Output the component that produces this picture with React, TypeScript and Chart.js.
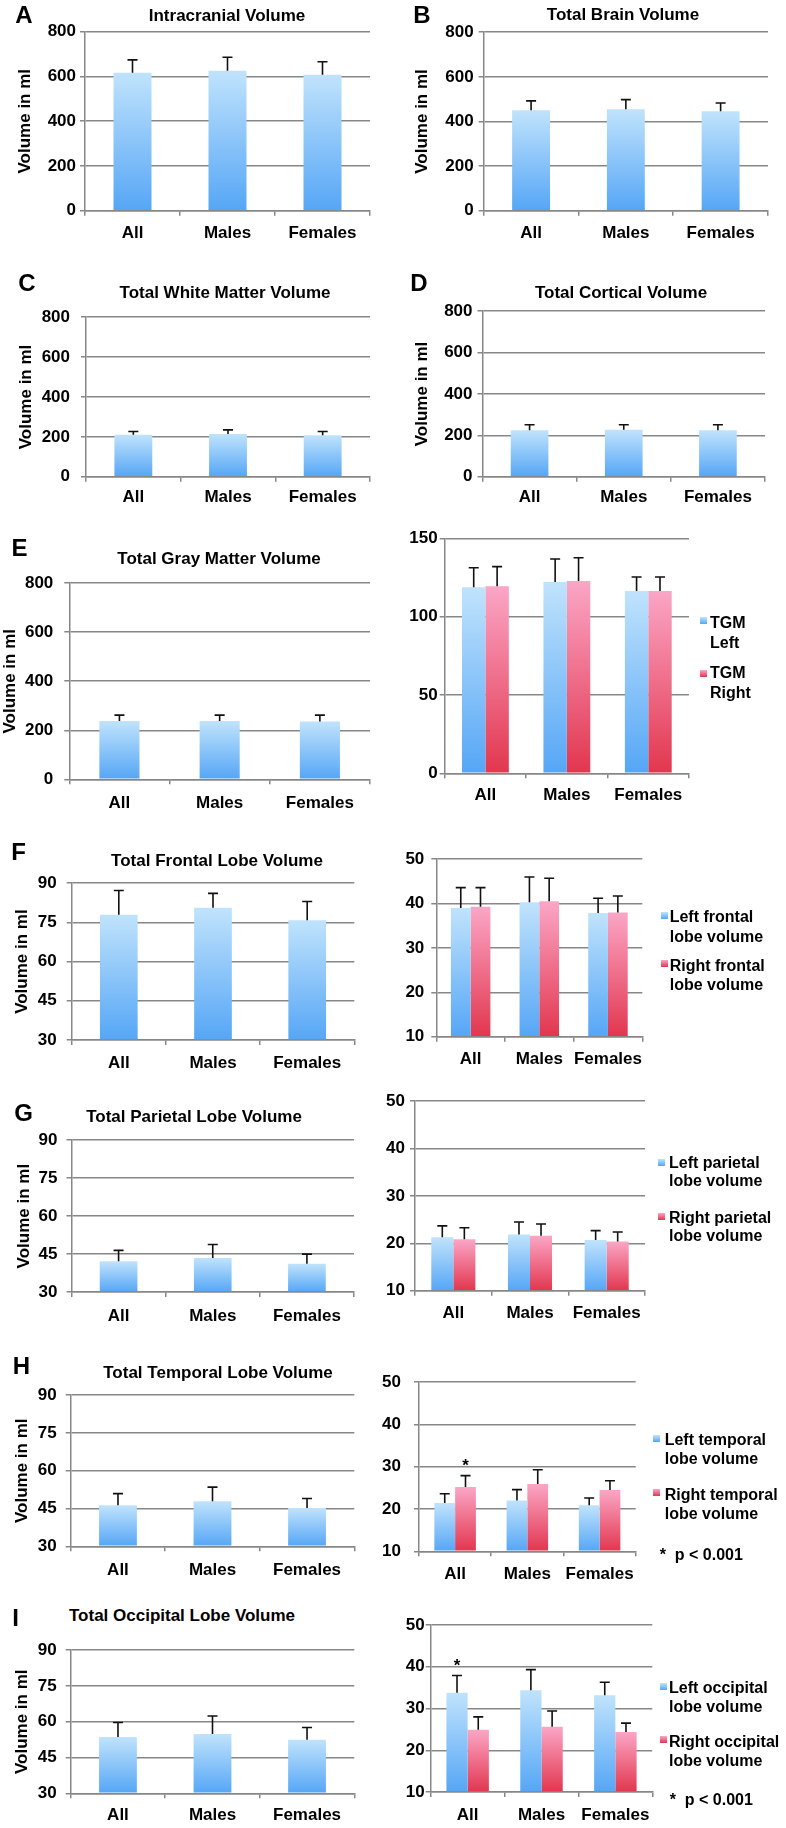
import React, { useEffect, useRef } from 'react';
import { Chart, registerables } from 'chart.js';

Chart.register(...registerables);

const FONT = '"Liberation Sans", Arial, Helvetica, sans-serif';
Chart.defaults.font.family = FONT;
Chart.defaults.color = '#000';

const BLUE_TOP = '#c0e3fc';
const BLUE_BOTTOM = '#55a6f6';
const PINK_TOP = '#fba6c6';
const PINK_BOTTOM = '#e2364e';
const GRID = '#878787';

// ---------- data ----------
const groups = ['All', 'Males', 'Females'];
const yAxisTitle = 'Volume in ml';

const icvMean = [617, 626, 608];
const icvSD = [57, 60, 58];
const tbvMean = [450, 455, 446];
const tbvSD = [42, 43, 37];
const wmMean = [211, 214, 208];
const wmSD = [16, 21, 19];
const cortMean = [224, 227, 224];
const cortSD = [27, 24, 27];
const gmMean = [238, 238, 236];
const gmSD = [24, 24, 26];

const tgmLeftMean = [118.7, 122.1, 116.4];
const tgmLeftSD = [12.5, 14.7, 8.9];
const tgmRightMean = [119.4, 122.7, 116.4];
const tgmRightSD = [12.5, 14.9, 8.9];

const frontalMean = [77.9, 80.6, 75.8];
const frontalSD = [9.3, 5.5, 7.2];
const frontalLeftMean = [39.0, 40.3, 37.9];
const frontalLeftSD = [4.6, 5.7, 3.3];
const frontalRightMean = [39.3, 40.5, 38.0];
const frontalRightSD = [4.3, 5.2, 3.7];

const parietalMean = [42.2, 43.5, 41.2];
const parietalSD = [4.3, 5.3, 3.8];
const parietalLeftMean = [21.3, 21.9, 20.7];
const parietalLeftSD = [2.4, 2.6, 2.0];
const parietalRightMean = [20.9, 21.6, 20.4];
const parietalRightSD = [2.4, 2.5, 2.0];

const temporalMean = [46.3, 47.9, 45.2];
const temporalSD = [4.6, 5.6, 3.8];
const temporalLeftMean = [21.4, 22.0, 20.9];
const temporalLeftSD = [2.2, 2.6, 1.7];
const temporalRightMean = [25.2, 25.9, 24.5];
const temporalRightSD = [2.7, 3.4, 2.2];
const temporalRightStars = [true, false, false];

const occipitalMean = [53.6, 54.9, 52.5];
const occipitalSD = [6.1, 7.5, 5.1];
const occipitalLeftMean = [33.8, 34.4, 33.2];
const occipitalLeftSD = [4.1, 4.9, 3.1];
const occipitalRightMean = [24.9, 25.6, 24.4];
const occipitalRightSD = [3.1, 3.8, 2.1];
const occipitalLeftStars = [true, false, false];

const volumeRange = [0, 800, 200];
const tgmRange = [0, 150, 50];
const lobeRange = [30, 90, 15];
const hemiRange = [10, 50, 10];

const panelLetters = ['A', 'B', 'C', 'D', 'E', 'F', 'G', 'H', 'I'];
const panelTitles = [
  'Intracranial Volume',
  'Total Brain Volume',
  'Total White Matter Volume',
  'Total Cortical Volume',
  'Total Gray Matter Volume',
  'Total Frontal Lobe Volume',
  'Total Parietal Lobe Volume',
  'Total Temporal Lobe Volume',
  'Total Occipital Lobe Volume',
];
const tgmLabels = ['TGM\nLeft', 'TGM\nRight'];
const frontalLabels = ['Left frontal\nlobe volume', 'Right frontal\nlobe volume'];
const parietalLabels = ['Left parietal\nlobe volume', 'Right parietal\nlobe volume'];
const temporalLabels = ['Left temporal\nlobe volume', 'Right temporal\nlobe volume'];
const occipitalLabels = ['Left occipital\nlobe volume', 'Right occipital\nlobe volume'];
const sigNote = '*  p < 0.001';

// ---------- layout ----------
type Tone = 'blue' | 'pink';
interface Series { label: string; mean: number[]; sd: number[]; tone: Tone; stars?: boolean[] }
interface Spec {
  id: string;
  series: Series[];
  range: number[];
  plot: number[]; // left, top, right, bottom (page px)
  left: number; // canvas left
  tickPad: number;
  catY: number;
  yTitleX?: number;
  catPct: number;
}

const single = (mean: number[], sd: number[]): Series[] => [{ label: yAxisTitle, mean, sd, tone: 'blue' }];

const specs: Spec[] = [
  { id: 'A', series: single(icvMean, icvSD), range: volumeRange, plot: [85, 31.7, 370, 210.7], left: 0, tickPad: 4, catY: 233, yTitleX: 25, catPct: 0.4 },
  { id: 'B', series: single(tbvMean, tbvSD), range: volumeRange, plot: [483.7, 31.7, 768, 210.7], left: 393, tickPad: 5, catY: 233, yTitleX: 422, catPct: 0.4 },
  { id: 'C', series: single(wmMean, wmSD), range: volumeRange, plot: [86, 310, 370, 476.7], left: 0, tickPad: 11, catY: 497, yTitleX: 26, catPct: 0.4 },
  { id: 'D', series: single(cortMean, cortSD), range: volumeRange, plot: [482.5, 310, 765, 476.7], left: 393, tickPad: 5, catY: 497, yTitleX: 422, catPct: 0.4 },
  { id: 'E', series: single(gmMean, gmSD), range: volumeRange, plot: [69.3, 576, 370, 779.3], left: 0, tickPad: 11, catY: 803, yTitleX: 10, catPct: 0.4 },
  {
    id: 'E2',
    series: [
      { label: tgmLabels[0], mean: tgmLeftMean, sd: tgmLeftSD, tone: 'blue' },
      { label: tgmLabels[1], mean: tgmRightMean, sd: tgmRightSD, tone: 'pink' },
    ],
    range: tgmRange, plot: [444.7, 538.3, 689, 773.3], left: 360, tickPad: 2, catY: 795, catPct: 0.575,
  },
  { id: 'F', series: single(frontalMean, frontalSD), range: lobeRange, plot: [71.7, 877.7, 354.3, 1040], left: 0, tickPad: 10, catY: 1063, yTitleX: 22, catPct: 0.4 },
  {
    id: 'F2',
    series: [
      { label: frontalLabels[0], mean: frontalLeftMean, sd: frontalLeftSD, tone: 'blue' },
      { label: frontalLabels[1], mean: frontalRightMean, sd: frontalRightSD, tone: 'pink' },
    ],
    range: hemiRange, plot: [436.3, 856, 642.3, 1036.7], left: 360, tickPad: 7, catY: 1059, catPct: 0.575,
  },
  { id: 'G', series: single(parietalMean, parietalSD), range: lobeRange, plot: [71.5, 1135.7, 354, 1292.1], left: 0, tickPad: 9, catY: 1316, yTitleX: 24, catPct: 0.4 },
  {
    id: 'G2',
    series: [
      { label: parietalLabels[0], mean: parietalLeftMean, sd: parietalLeftSD, tone: 'blue' },
      { label: parietalLabels[1], mean: parietalRightMean, sd: parietalRightSD, tone: 'pink' },
    ],
    range: hemiRange, plot: [415, 1100.3, 645, 1290.8], left: 360, tickPad: 5, catY: 1313, catPct: 0.575,
  },
  { id: 'H', series: single(temporalMean, temporalSD), range: lobeRange, plot: [70.7, 1390.7, 354.3, 1546.3], left: 0, tickPad: 9, catY: 1570, yTitleX: 22, catPct: 0.4 },
  {
    id: 'H2',
    series: [
      { label: temporalLabels[0], mean: temporalLeftMean, sd: temporalLeftSD, tone: 'blue' },
      { label: temporalLabels[1], mean: temporalRightMean, sd: temporalRightSD, tone: 'pink', stars: temporalRightStars },
    ],
    range: hemiRange, plot: [419, 1373.7, 635.7, 1551.3], left: 360, tickPad: 13, catY: 1574, catPct: 0.575,
  },
  { id: 'I', series: single(occipitalMean, occipitalSD), range: lobeRange, plot: [70.7, 1645.3, 354.3, 1793.3], left: 0, tickPad: 9, catY: 1815, yTitleX: 22, catPct: 0.4 },
  {
    id: 'I2',
    series: [
      { label: occipitalLabels[0], mean: occipitalLeftMean, sd: occipitalLeftSD, tone: 'blue', stars: occipitalLeftStars },
      { label: occipitalLabels[1], mean: occipitalRightMean, sd: occipitalRightSD, tone: 'pink' },
    ],
    range: hemiRange, plot: [430.7, 1625, 652.3, 1792], left: 360, tickPad: 1, catY: 1815, catPct: 0.575,
  },
];

const letterPos = [[24, 15], [422, 15], [27, 283.3], [419, 283.3], [19.5, 548.3], [18.5, 851.5], [23.5, 1113], [21.5, 1365.5], [15.5, 1618]];
const titlePos = [[227, 14.5], [623, 14], [225, 291.7], [621, 291.7], [219, 558], [217, 860], [194, 1115.5], [218, 1372.4], [182, 1615.4]];

interface LegendItem { label: string; tone: Tone; sx: number; sy: number; tx: number; ty: number; lh: number }
const legendItems: LegendItem[] = [
  { label: tgmLabels[0], tone: 'blue', sx: 700, sy: 620, tx: 710, ty: 622.5, lh: 20 },
  { label: tgmLabels[1], tone: 'pink', sx: 700, sy: 673.3, tx: 710, ty: 672.7, lh: 20 },
  { label: frontalLabels[0], tone: 'blue', sx: 661, sy: 915.3, tx: 669.7, ty: 917, lh: 19.6 },
  { label: frontalLabels[1], tone: 'pink', sx: 661, sy: 963.7, tx: 669.7, ty: 965.5, lh: 19.6 },
  { label: parietalLabels[0], tone: 'blue', sx: 657.5, sy: 1162, tx: 669, ty: 1163, lh: 18.3 },
  { label: parietalLabels[1], tone: 'pink', sx: 657.5, sy: 1216.5, tx: 669, ty: 1218, lh: 18.3 },
  { label: temporalLabels[0], tone: 'blue', sx: 653, sy: 1438.5, tx: 664.7, ty: 1439, lh: 19 },
  { label: temporalLabels[1], tone: 'pink', sx: 653, sy: 1492.7, tx: 664.7, ty: 1494, lh: 19 },
  { label: occipitalLabels[0], tone: 'blue', sx: 659.7, sy: 1686, tx: 669, ty: 1687, lh: 19 },
  { label: occipitalLabels[1], tone: 'pink', sx: 659.7, sy: 1739.3, tx: 669, ty: 1741, lh: 19 },
];
const notePos = [[659.7, 1546.5], [669.7, 1792]];

// ---------- chart helpers ----------
function fillFor(tone: Tone) {
  const top = tone === 'blue' ? BLUE_TOP : PINK_TOP;
  const bottom = tone === 'blue' ? BLUE_BOTTOM : PINK_BOTTOM;
  return (c: any) => {
    const chart = c.chart;
    if (!chart || !chart.chartArea || c.type !== 'data' || !chart.scales || !chart.scales.y) return bottom;
    const ys = chart.scales.y;
    const yTop = ys.getPixelForValue(c.raw);
    const yBot = ys.getPixelForValue(ys.min);
    if (!isFinite(yTop) || !isFinite(yBot) || yBot - yTop < 1) return bottom;
    const g = chart.ctx.createLinearGradient(0, yTop, 0, yBot);
    g.addColorStop(0, top);
    g.addColorStop(1, bottom);
    return g;
  };
}

const errorBars = {
  id: 'errorBars',
  afterDatasetsDraw(chart: any) {
    const ctx = chart.ctx;
    const ys = chart.scales.y;
    chart.data.datasets.forEach((ds: any, di: number) => {
      const meta = chart.getDatasetMeta(di);
      meta.data.forEach((bar: any, i: number) => {
        const top = ys.getPixelForValue(ds.data[i] + ds.sd[i]);
        ctx.save();
        ctx.strokeStyle = '#111';
        ctx.lineWidth = 1.6;
        ctx.beginPath();
        ctx.moveTo(bar.x, bar.y);
        ctx.lineTo(bar.x, top);
        ctx.moveTo(bar.x - 5, top);
        ctx.lineTo(bar.x + 5, top);
        ctx.stroke();
        if (ds.stars && ds.stars[i]) {
          ctx.fillStyle = '#000';
          ctx.font = `bold 17px ${FONT}`;
          ctx.textAlign = 'center';
          ctx.textBaseline = 'alphabetic';
          ctx.fillText('*', bar.x, top - 5);
        }
        ctx.restore();
      });
    });
  },
};

function BarChart({ spec }: { spec: Spec }) {
  const ref = useRef<HTMLCanvasElement | null>(null);
  const [l, t, r, b] = spec.plot;
  const cl = spec.left;
  const ct = Math.floor(t - 14);
  const room = cl === 0 ? 20 : 30;
  const cw = Math.ceil(Math.min(r - cl + room, 786 - cl));
  const ch = Math.ceil(b - ct + 42);

  useEffect(() => {
    const canvas = ref.current;
    if (!canvas) return;
    const [min, max, step] = spec.range;
    const font = { family: FONT, size: 17, weight: 'bold' as any };
    const yLeftW = l - cl;
    const xH = ch - (b - ct);
    const catPad = spec.catY - b - 5 - 10.2;
    const chart = new Chart(canvas, {
      type: 'bar',
      data: {
        labels: groups,
        datasets: spec.series.map((s) => ({
          label: s.label,
          data: s.mean,
          sd: s.sd,
          stars: s.stars,
          base: min,
          backgroundColor: fillFor(s.tone),
          borderWidth: 0,
          categoryPercentage: spec.catPct,
          barPercentage: 1,
        })) as any,
      },
      options: {
        animation: false,
        responsive: false,
        maintainAspectRatio: false,
        layout: { padding: { left: 0, top: t - ct, right: cw - (r - cl), bottom: 0 } },
        plugins: { legend: { display: false }, tooltip: { enabled: false }, title: { display: false } },
        scales: {
          x: {
            grid: { display: true, drawOnChartArea: false, drawTicks: true, tickLength: 5, color: GRID, lineWidth: 1.5, offset: true },
            border: { display: true, color: GRID, width: 1.5 },
            ticks: { color: '#000', font, padding: catPad, maxRotation: 0, autoSkip: false },
            afterFit: (s: any) => { s.height = xH; },
          },
          y: {
            min,
            max,
            ticks: { stepSize: step, color: '#000', font, padding: spec.tickPad },
            grid: { color: GRID, lineWidth: 1.5, tickLength: 5, drawTicks: true },
            border: { display: true, color: GRID, width: 1.5 },
            title: spec.yTitleX != null
              ? { display: true, text: yAxisTitle, color: '#000', font, padding: { top: Math.max(0, spec.yTitleX - cl - 10.2), bottom: 0 } }
              : { display: false },
            afterFit: (s: any) => { s.width = yLeftW; },
          },
        } as any,
      },
      plugins: [errorBars],
    });
    return () => chart.destroy();
  }, [spec]);

  return (
    <canvas
      ref={ref}
      width={cw}
      height={ch}
      style={{ position: 'absolute', left: cl, top: ct, width: cw, height: ch }}
    />
  );
}

const centered = (x: number, y: number, size: number): React.CSSProperties => ({
  position: 'absolute',
  left: x,
  top: y,
  transform: 'translate(-50%, -50%)',
  font: `bold ${size}px ${FONT}`,
  lineHeight: 1,
  whiteSpace: 'nowrap',
  color: '#000',
});

export default function App() {
  return (
    <div style={{ position: 'absolute', left: 0, top: 0, width: 786, height: 1828, overflow: 'hidden', background: '#fff' }}>
      {specs.map((s) => <BarChart key={s.id} spec={s} />)}
      {panelLetters.map((t, i) => (
        <div key={'l' + t} style={centered(letterPos[i][0], letterPos[i][1], 24)}>{t}</div>
      ))}
      {panelTitles.map((t, i) => (
        <div key={'t' + i} style={centered(titlePos[i][0], titlePos[i][1], 17)}>{t}</div>
      ))}
      {legendItems.map((it, i) => (
        <React.Fragment key={'g' + i}>
          <div
            style={{
              position: 'absolute',
              left: it.sx,
              top: it.sy - 3.5,
              width: 7,
              height: 7,
              background: `linear-gradient(${it.tone === 'blue' ? BLUE_TOP : PINK_TOP}, ${it.tone === 'blue' ? BLUE_BOTTOM : PINK_BOTTOM})`,
            }}
          />
          <div
            style={{
              position: 'absolute',
              left: it.tx,
              top: it.ty - it.lh / 2,
              font: `bold 16px ${FONT}`,
              lineHeight: `${it.lh}px`,
              whiteSpace: 'pre',
              color: '#000',
            }}
          >
            {it.label}
          </div>
        </React.Fragment>
      ))}
      {notePos.map((p, i) => (
        <div
          key={'n' + i}
          style={{ position: 'absolute', left: p[0], top: p[1], font: `bold 16px ${FONT}`, lineHeight: '16px', whiteSpace: 'pre', color: '#000' }}
        >
          {sigNote}
        </div>
      ))}
    </div>
  );
}
